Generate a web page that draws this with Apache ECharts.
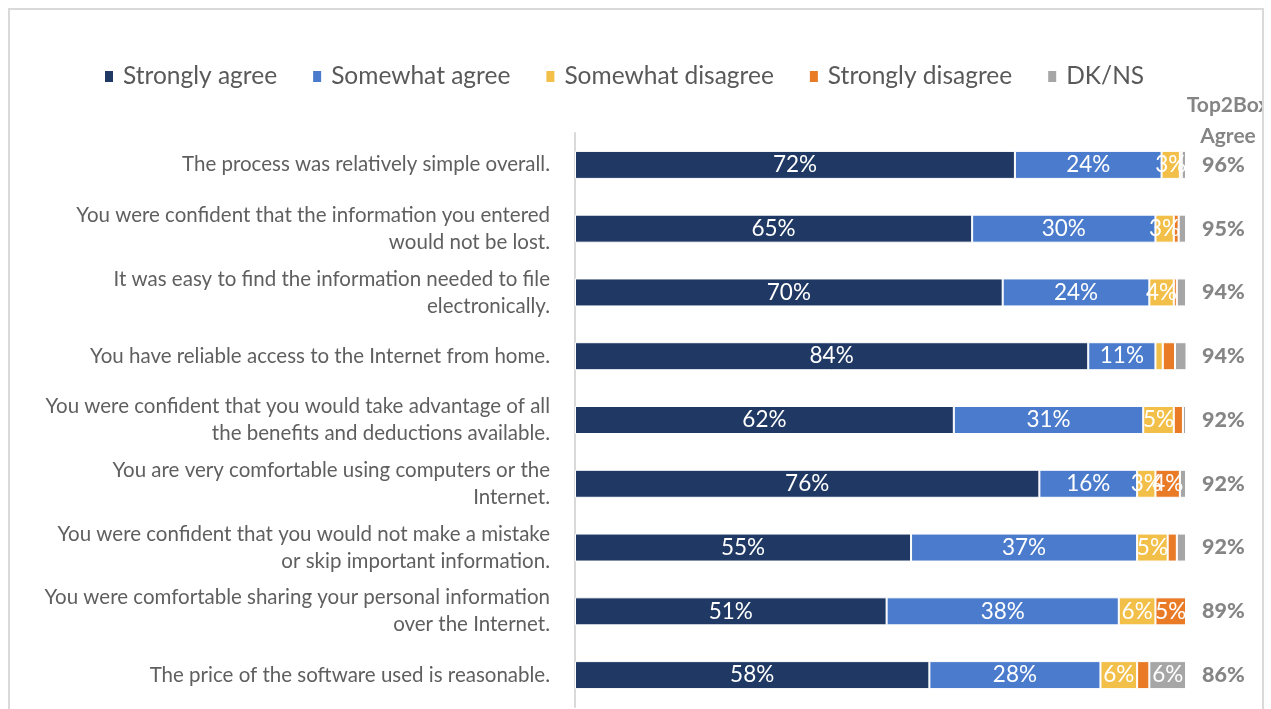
<!DOCTYPE html>
<html>
<head>
<meta charset="utf-8">
<script src="https://cdn.jsdelivr.net/npm/echarts@6/dist/echarts.min.js"></script>
<style>
  html, body { margin: 0; padding: 0; background: #fff; }
  #frame { position: absolute; left: 8px; top: 8px; width: 1252px; height: 720px;
           border: 2px solid #d9d9d9; overflow: hidden; }
  #chart { position: absolute; left: -10px; top: -10px; width: 1271px; height: 709px; }
</style>
</head>
<body>
<div id="frame"><div id="chart"></div></div>
<script>
// Survey statements (top to bottom)
const statements = [
  "The process was relatively simple overall.",
  "You were confident that the information you entered\nwould not be lost.",
  "It was easy to find the information needed to file\nelectronically.",
  "You have reliable access to the Internet from home.",
  "You were confident that you would take advantage of all\nthe benefits and deductions available.",
  "You are very comfortable using computers or the\nInternet.",
  "You were confident that you would not make a mistake\nor skip important information.",
  "You were comfortable sharing your personal information\nover the Internet.",
  "The price of the software used is reasonable."
];

// Response shares, percent of respondents
const stronglyAgree     = [72, 65, 70, 84, 62, 76, 55, 51, 58];
const somewhatAgree     = [24, 30, 24, 11, 31, 16, 37, 38, 28];
const somewhatDisagree  = [3, 3, 4, 1.2, 5, 3, 5, 6, 6];
const stronglyDisagree  = [0.3, 0.8, 0.5, 2, 1.5, 4, 1.5, 5, 2];
const dkns              = [0.7, 1.2, 1.5, 2, 0.5, 1, 1.5, 0.3, 6];

// Top-two-box agreement shown on the right
const top2Box = ["96%", "95%", "94%", "94%", "92%", "92%", "92%", "89%", "86%"];

const seriesNames = ["Strongly agree", "Somewhat agree", "Somewhat disagree", "Strongly disagree", "DK/NS"];
const seriesData = [stronglyAgree, somewhatAgree, somewhatDisagree, stronglyDisagree, dkns];
const colors = ["#1f3864", "#4a7bcc", "#f2bf49", "#e97b27", "#a6a6a6"];

const FONT = "Lato, 'Liberation Sans', sans-serif";

const chart = echarts.init(document.getElementById("chart"), null, { renderer: "canvas" });

chart.setOption({
  animation: false,
  color: colors,
  textStyle: { fontFamily: FONT },
  legend: {
    top: 59,
    left: 98,
    itemWidth: 10,
    itemHeight: 13,
    itemGap: 34,
    icon: "rect",
    textStyle: { fontSize: 24.5, color: "#595959", fontFamily: FONT, padding: [0, 0, 0, 4] },
    data: seriesNames
  },
  title: {
    text: "Top2Box\nAgree",
    left: 1223,
    top: 85,
    textAlign: "center",
    textStyle: { fontSize: 21, fontWeight: "bold", color: "#858585", lineHeight: 31, fontFamily: FONT }
  },
  grid: { left: 575, right: 85, top: 133, bottom: 2, containLabel: false },
  xAxis: {
    type: "value",
    min: 0,
    max: 100,
    show: false
  },
  yAxis: [
    {
      type: "category",
      data: statements,
      inverse: true,
      axisLine: { show: true, lineStyle: { color: "#d9d9d9", width: 2 } },
      axisTick: { show: false },
      axisLabel: {
        margin: 25,
        fontSize: 20.5,
        lineHeight: 27,
        color: "#5f5f5f",
        align: "right",
        fontFamily: FONT
      }
    },
    {
      type: "category",
      data: top2Box,
      inverse: true,
      position: "right",
      axisLine: { show: false },
      axisTick: { show: false },
      axisLabel: {
        margin: 16,
        fontSize: 21.5,
        fontWeight: 900,
        color: "#858585",
        fontFamily: FONT
      }
    }
  ],
  series: seriesNames.map((name, i) => ({
    name: name,
    type: "bar",
    stack: "total",
    yAxisIndex: 0,
    barWidth: 28,
    data: seriesData[i],
    itemStyle: { borderColor: "#ffffff", borderWidth: 1 },
    label: {
      show: true,
      position: "inside",
      color: "#ffffff",
      fontSize: 22.5,
      fontFamily: FONT,
      formatter: p => (p.value >= 3 ? p.value + "%" : "")
    }
  }))
});
</script>
</body>
</html>
